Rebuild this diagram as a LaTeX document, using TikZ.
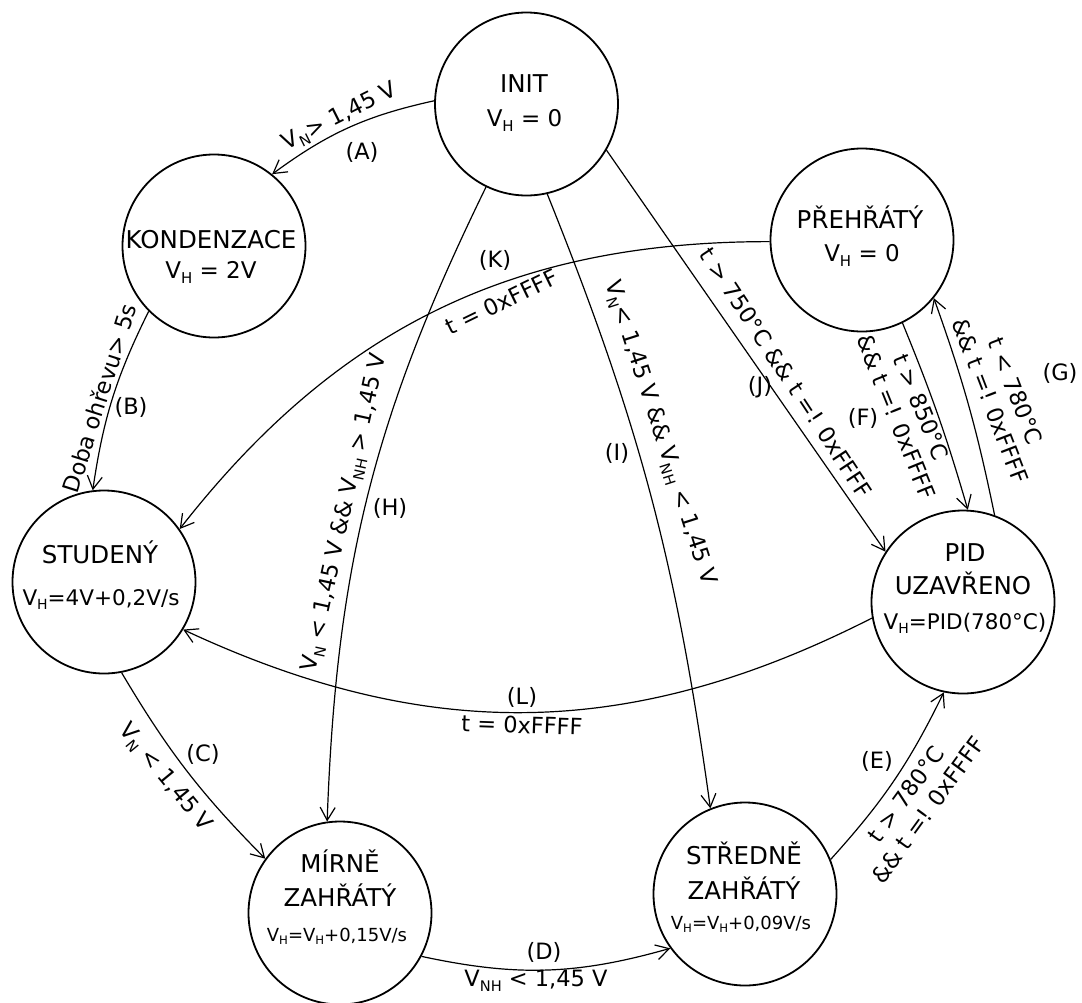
\documentclass[tikz,border=0pt]{standalone}
\usepackage{fontspec}
\setmainfont{DejaVu Sans}
\usepackage{graphicx}
\usetikzlibrary{arrows.meta}
\newcommand{\lowidx}[1]{\raisebox{-0.22em}{\scalebox{0.65}{#1}}}
\begin{document}
\begin{tikzpicture}[x=1pt,y=1pt,
 state/.style={circle, draw, line width=1.8pt, minimum size=183pt, inner sep=0pt},
 nm/.style={font=\fontsize{24.5}{28}\selectfont, anchor=base, inner sep=0pt},
 vl/.style={font=\fontsize{23}{26}\selectfont, anchor=base, inner sep=0pt},
 edge/.style={line width=1.2pt, -{Straight Barb[length=13pt,width=15pt,line width=1.2pt]}},
 elab/.style={font=\fontsize{22.5}{27}\selectfont, inner sep=0pt},
]
\fill[white] (0,0) rectangle (1082,-1002);
\useasboundingbox (0,0) rectangle (1082,-1002);

% states
\node[state] (init) at (526.5,-104) {};
\node[state] (kond) at (214,-246) {};
\node[state] (preh) at (862,-240) {};
\node[state] (stud) at (104,-582) {};
\node[state] (mirn) at (340,-913) {};
\node[state] (stred) at (745,-894) {};
\node[state] (pid) at (963,-602) {};

% state texts
\node[nm] (initA) at (524,-92) {INIT};
\node[vl] (initB) at (524.5,-126) {V\lowidx{H} = 0};
\node[nm] (kondA) at (211,-248.5) {KONDENZACE};
\node[vl] (kondB) at (211,-278) {V\lowidx{H} = 2V};
\node[nm] (prehA) at (860,-228.5) {PŘEHŘÁTÝ};
\node[vl] (prehB) at (862,-261.5) {V\lowidx{H} = 0};
\node[nm] (studA) at (100,-563) {STUDENÝ};
\node[vl, font=\fontsize{21.5}{26}\selectfont] (studB) at (101,-605) {V\lowidx{H}=4V+0,2V/s};
\node[nm] (mirnA) at (340,-872) {MÍRNĚ};
\node[nm] (mirnB) at (340,-906) {ZAHŘÁTÝ};
\node[vl, font=\fontsize{18}{22}\selectfont] (mirnC) at (337,-941) {V\lowidx{H}=V\lowidx{H}+0,15V/s};
\node[nm] (stredA) at (744,-864) {STŘEDNĚ};
\node[nm] (stredB) at (744,-899) {ZAHŘÁTÝ};
\node[vl, font=\fontsize{18}{22}\selectfont] (stredC) at (741,-929) {V\lowidx{H}=V\lowidx{H}+0,09V/s};
\node[nm] (pidA) at (965,-561) {PID};
\node[nm] (pidB) at (963,-594) {UZAVŘENO};
\node[vl, font=\fontsize{21.5}{26}\selectfont] (pidC) at (965,-629) {V\lowidx{H}=PID(780°C)};

% transitions
\draw[edge] (init.178) to[bend right=12] (kond.51);
\draw[edge] (kond.225) to[bend right=9] (stud.97);
\draw[edge] (stud.281) to[bend right=7] (mirn.144);
\draw[edge] (mirn.332) to[bend right=14] (stred.216);
\draw[edge] (stred.22) to[bend right=8] (pid.258);
\draw[edge] (preh.296) to[bend left=3] (pid.87);
\draw[edge] (pid.70) to[bend right=4] (preh.321);
\draw[edge] (init.244) to[bend right=12] (mirn.98);
\draw[edge] (init.283) to[bend left=7] (stred.112);
\draw[edge] (init.330) to (pid.147);
\draw[edge] (preh.181) to[bend right=26] (stud.35);
\draw[edge] (pid.190) to[bend left=26] (stud.329);

% labels
\node[elab, rotate=26.6] (lA) at (340,-117) {V\lowidx{N}> 1,45 V};
\node[elab] (lAa) at (362,-152) {(A)};
\node[elab, rotate=72.5] (lB) at (99,-398) {Doba ohřevu> 5s};
\node[elab] (lBb) at (131,-407) {(B)};
\node[elab, rotate=-50.5] (lC) at (165,-778) {V\lowidx{N} < 1,45 V};
\node[elab] (lCc) at (203,-754) {(C)};
\node[elab] (lDd) at (544,-952) {(D)};
\node[elab] (lD) at (536,-981) {V\lowidx{NH} < 1,45 V};
\node[elab, rotate=54, align=center] (lE) at (917,-802) {t > 780°C\\\&\& t =! 0xFFFF};
\node[elab] (lEe) at (877,-761) {(E)};
\node[elab, rotate=-68, align=center] (lF) at (909,-412) {t > 850°C\\\&\& t =! 0xFFFF};
\node[elab] (lFf) at (863,-418) {(F)};
\node[elab, rotate=-69, align=center] (lG) at (1003,-396) {t < 780°C\\\&\& t =! 0xFFFF};
\node[elab] (lGg) at (1060,-373) {(G)};
\node[elab, rotate=77.6] (lH) at (345,-513) {V\lowidx{N} < 1,45 V \&\& V\lowidx{NH} > 1,45 V};
\node[elab] (lHh) at (390,-508) {(H)};
\node[elab, rotate=-72.2] (lI) at (660,-433) {V\lowidx{N}< 1,45 V \&\& V\lowidx{NH} < 1,45 V};
\node[elab] (lIi) at (617,-453) {(I)};
\node[elab, rotate=-56.6] (lJ) at (786,-373) {t > 750°C \&\& t =! 0xFFFF};
\node[elab] (lJj) at (760,-387) {(J)};
\node[elab, rotate=25.9] (lK) at (502,-302) {t = 0xFFFF};
\node[elab] (lKk) at (495,-260) {(K)};
\node[elab] (lLl) at (522,-697) {(L)};
\node[elab, rotate=-2] (lL) at (522,-725) {t = 0xFFFF};
\end{tikzpicture}
\end{document}
